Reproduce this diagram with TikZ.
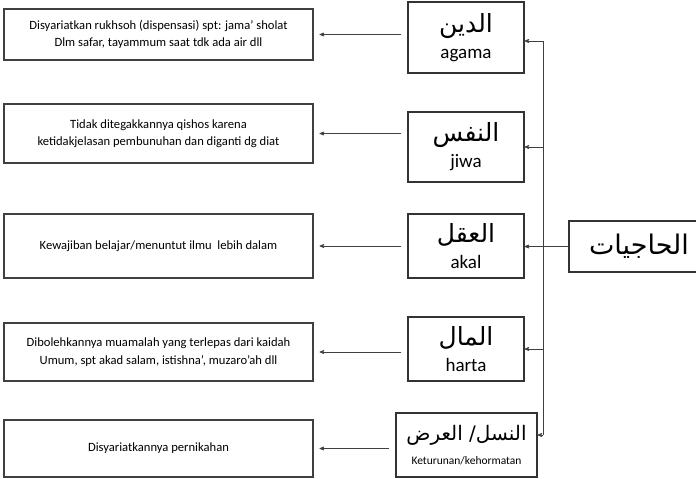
\documentclass[tikz,border=0pt]{standalone}
\usepackage{fontspec}
\setmainfont{Carlito}
\newfontfamily\arabicfont[Script=Arabic]{DejaVu Sans}
\TeXXeTstate=1
\usetikzlibrary{arrows}

\newcommand{\arabtext}[2][24]{{\fontsize{#1}{#1}\arabicfont\beginR #2\endR}}

\begin{document}
\begin{tikzpicture}[x=1pt,y=-1pt,>=stealth',semithick]
  \tikzstyle{akibat}=[draw=black!75,line width=1.1pt,minimum width=309,align=center,
                      font=\fontsize{12.6}{17.5}\selectfont]
  \tikzstyle{pokok}=[draw=black!80,line width=1.1pt,minimum width=116,minimum height=64,
                     align=center,inner sep=2pt,font=\fontsize{19}{22}\selectfont]
  \tikzstyle{panah}=[->,draw=black!75,line width=0.7pt]

  \clip (0,0) rectangle (696,479);

  % kolom kiri
  \node[akibat,minimum height=51] (Rukhsoh)  at (158.5,34.5)  {Disyariatkan rukhsoh (dispensasi) spt: jama’ sholat\\Dlm safar, tayammum saat tdk ada air dll};
  \node[akibat,minimum height=59] (Qishos)   at (158.5,133.5) {Tidak ditegakkannya qishos karena\\ketidakjelasan pembunuhan dan diganti dg diat};
  \node[akibat,minimum height=64] (Belajar)  at (158.5,246)   {Kewajiban belajar/menuntut ilmu~ lebih dalam};
  \node[akibat,minimum height=58] (Muamalah) at (158.5,352)   {Dibolehkannya muamalah yang terlepas dari kaidah\\Umum, spt akad salam, istishna’, muzaro’ah dll};
  \node[akibat,minimum height=57] (Nikah)    at (158.5,448.5) {Disyariatkannya pernikahan};

  % kolom tengah
  \node[pokok,minimum height=71] (Din)   at (466,37.5) {\arabtext[25]{الدين}\\[4pt]agama};
  \node[pokok,minimum height=70] (Nafs)  at (466,147)  {\arabtext[25]{النفس}\\[4pt]jiwa};
  \node[pokok]                   (Aql)   at (466,246)  {\arabtext[25]{العقل}\\[4pt]akal};
  \node[pokok]                   (Mal)   at (466,349)  {\arabtext[25]{المال}\\[4pt]harta};
  \node[pokok,minimum width=141] (Nasl)  at (466.5,445) {\arabtext[20]{النسل/ العرض}\\[2pt]{\fontsize{11.5}{12}\selectfont Keturunan/kehormatan}};

  % kanan
  \node[pokok,minimum width=140,minimum height=51] (Hajiyat) at (639,246.5) {\arabtext[27]{الحاجيات}};

  \coordinate (atas)  at (543,41);
  \coordinate (bawah) at (543,435);

  % panah ke kiri
  \draw[panah] ([xshift=-6pt]Din.west  |- Rukhsoh.east)  -- ([xshift=6pt]Rukhsoh.east);
  \draw[panah] ([xshift=-6pt]Nafs.west |- Qishos.east)   -- ([xshift=6pt]Qishos.east);
  \draw[panah] ([xshift=-6pt]Aql.west  |- Belajar.east)  -- ([xshift=6pt]Belajar.east);
  \draw[panah] ([xshift=-6pt]Mal.west  |- Muamalah.east) -- ([xshift=6pt]Muamalah.east);
  \draw[panah] ([xshift=-6pt]Nasl.west |- Nikah.east)    -- ([xshift=6pt]Nikah.east);

  % cabang dari al-hajiyat
  \draw[panah] (Hajiyat.west) -- (Aql.east |- Hajiyat.west);
  \draw[draw=black!75,line width=0.7pt] (atas) -- (bawah);
  \draw[panah] (atas)  -- (Din.east |- atas);
  \draw[panah] (atas |- Nafs.east) -- (Nafs.east);
  \draw[panah] (atas |- Mal.east)  -- (Mal.east);
  \draw[panah] (bawah) -- (Nasl.east |- bawah);
\end{tikzpicture}
\end{document}
